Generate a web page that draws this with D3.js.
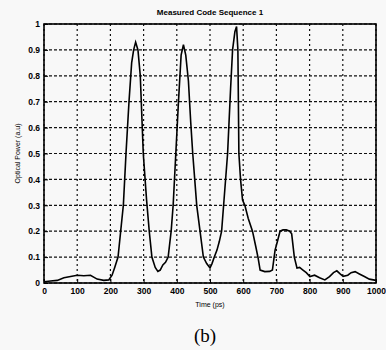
<!DOCTYPE html>
<html>
<head>
<meta charset="utf-8">
<script src="https://cdn.jsdelivr.net/npm/d3@7"></script>
<style>
  body { margin: 0; background: #f8f8f8; }
  svg { display: block; }
</style>
</head>
<body>
<svg width="386" height="350"></svg>
<script>
// time (ps) and optical power (a.u.)
const timePs = [0, 20, 40, 60, 80, 100, 120, 140, 160, 180, 195, 205, 213, 223, 231, 239, 247, 256, 264, 270, 276, 283, 290, 299, 309, 317, 325, 335, 343, 350, 358, 366, 374, 383, 389, 397, 405, 413, 420, 427, 435, 442, 448, 460, 470, 480, 490, 500, 506, 513, 521, 528, 535, 541, 553, 562, 568, 575, 580, 584, 587, 592, 598, 605, 615, 628, 638, 645, 651, 665, 680, 688, 696, 703, 711, 720, 730, 740, 746, 754, 762, 770, 780, 790, 801, 815, 830, 846, 860, 872, 882, 892, 901, 915, 925, 937, 950, 965, 980, 1000];
const power  = [0.005, 0.008, 0.01, 0.02, 0.025, 0.03, 0.028, 0.03, 0.015, 0.01, 0.012, 0.03, 0.06, 0.1, 0.2, 0.3, 0.5, 0.7, 0.85, 0.9, 0.93, 0.9, 0.8, 0.5, 0.32, 0.2, 0.1, 0.06, 0.045, 0.05, 0.07, 0.08, 0.1, 0.2, 0.3, 0.5, 0.7, 0.88, 0.92, 0.88, 0.78, 0.62, 0.5, 0.3, 0.2, 0.1, 0.075, 0.058, 0.075, 0.1, 0.127, 0.16, 0.2, 0.3, 0.5, 0.75, 0.9, 0.97, 0.99, 0.9, 0.5, 0.4, 0.32, 0.3, 0.25, 0.2, 0.14, 0.096, 0.05, 0.044, 0.045, 0.05, 0.127, 0.16, 0.2, 0.205, 0.205, 0.2, 0.19, 0.1, 0.058, 0.06, 0.05, 0.04, 0.025, 0.03, 0.02, 0.012, 0.025, 0.04, 0.047, 0.035, 0.026, 0.03, 0.04, 0.044, 0.035, 0.025, 0.015, 0.01];

const xTicks = [0, 100, 200, 300, 400, 500, 600, 700, 800, 900, 1000];
const yTicks = [0, 0.1, 0.2, 0.3, 0.4, 0.5, 0.6, 0.7, 0.8, 0.9, 1];

const titleText = "Measured Code Sequence 1";
const xLabel = "Time (ps)";
const yLabel = "Optical Power (a.u)";
const caption = "(b)";

const svg = d3.select("svg");
const margin = { top: 24, right: 10, bottom: 67, left: 44 };
const width = 386 - margin.left - margin.right;
const height = 350 - margin.top - margin.bottom;

const g = svg.append("g").attr("transform", `translate(${margin.left},${margin.top})`);

const x = d3.scaleLinear().domain([0, 1000]).range([0, width]);
const y = d3.scaleLinear().domain([0, 1]).range([height, 0]);

// dotted grid
g.append("g")
    .selectAll("line")
    .data(xTicks)
    .enter()
    .append("line")
    .attr("x1", d => x(d)).attr("x2", d => x(d))
    .attr("y1", 0).attr("y2", height)
    .attr("stroke", "#111")
    .attr("stroke-width", 1.2)
    .attr("stroke-dasharray", "2,3");

g.append("g")
    .selectAll("line")
    .data(yTicks)
    .enter()
    .append("line")
    .attr("x1", 0).attr("x2", width)
    .attr("y1", d => y(d)).attr("y2", d => y(d))
    .attr("stroke", "#111")
    .attr("stroke-width", 1.2)
    .attr("stroke-dasharray", "3,2");

// axes
const xAxis = g.append("g")
    .attr("transform", `translate(0,${height})`)
    .call(d3.axisBottom(x).tickValues(xTicks).tickFormat(d3.format("d")).tickSize(-4).tickPadding(5));
const yAxis = g.append("g")
    .call(d3.axisLeft(y).tickValues(yTicks).tickFormat(d => d === 0 || d === 1 ? d : d3.format(".1f")(d)).tickSize(-4).tickPadding(4));

[xAxis, yAxis].forEach(a => {
    a.select(".domain").remove();
    a.selectAll("line").attr("stroke", "#000");
    a.selectAll("text")
        .attr("fill", "#000")
        .style("font-family", "Liberation Sans, Arial, sans-serif")
        .style("font-size", "8.5px")
        .style("font-weight", "bold");
});

// frame
g.append("rect")
    .attr("width", width).attr("height", height)
    .attr("fill", "none")
    .attr("stroke", "#000")
    .attr("stroke-width", 1.6);

// trace
const data = timePs.map((t, i) => ({ t, v: power[i] }));
g.append("path")
    .datum(data)
    .attr("fill", "none")
    .attr("stroke", "#000")
    .attr("stroke-width", 1.6)
    .attr("d", d3.line().x(d => x(d.t)).y(d => y(d.v)));

// labels
svg.append("text")
    .attr("x", margin.left + width / 2).attr("y", 15)
    .attr("text-anchor", "middle")
    .style("font-family", "Liberation Sans, Arial, sans-serif")
    .style("font-size", "8px")
    .style("font-weight", "bold")
    .text(titleText);

svg.append("text")
    .attr("x", margin.left + width / 2).attr("y", 307)
    .attr("text-anchor", "middle")
    .style("font-family", "Liberation Sans, Arial, sans-serif")
    .style("font-size", "7px")
    .text(xLabel);

svg.append("text")
    .attr("transform", `translate(20,${margin.top + height / 2}) rotate(-90)`)
    .attr("text-anchor", "middle")
    .style("font-family", "Liberation Sans, Arial, sans-serif")
    .style("font-size", "7px")
    .text(yLabel);

svg.append("text")
    .attr("x", 205).attr("y", 342)
    .attr("text-anchor", "middle")
    .style("font-family", "Liberation Serif, Times New Roman, serif")
    .style("font-size", "19px")
    .text(caption);
</script>
</body>
</html>
